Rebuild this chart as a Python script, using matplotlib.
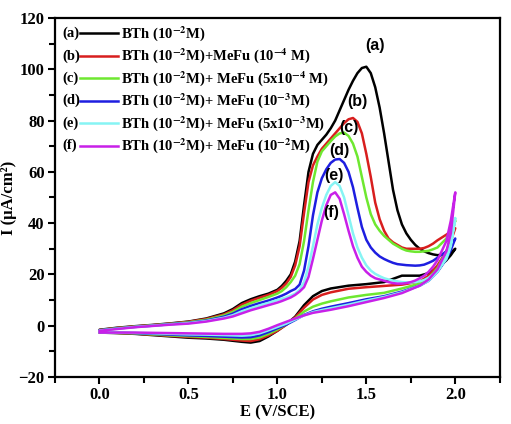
import numpy as np
import matplotlib
matplotlib.use('Agg')
import matplotlib.pyplot as plt
from matplotlib.ticker import MultipleLocator

plt.rcParams.update({
    'font.family': 'Liberation Serif', 'font.weight': 'bold',
    'mathtext.fontset': 'stix',
})

# forward (anodic) scan potentials, V/SCE
E_fwd = [0.0, 0.1, 0.2, 0.3, 0.4, 0.5, 0.6, 0.7, 0.75, 0.8, 0.85, 0.9, 0.95,
         1.0, 1.025, 1.05, 1.075, 1.1, 1.125, 1.15, 1.175, 1.2, 1.225, 1.25, 1.275,
         1.3, 1.325, 1.35, 1.375, 1.4, 1.425, 1.45, 1.475, 1.5, 1.525, 1.55, 1.575,
         1.6, 1.625, 1.65, 1.675, 1.7, 1.725, 1.75, 1.775, 1.8, 1.825, 1.85, 1.875,
         1.9, 1.95, 1.975, 2.0]
# return scan potentials
E_rev = [2.0, 1.975, 1.95, 1.9, 1.85, 1.8, 1.7, 1.6, 1.5, 1.4, 1.3, 1.25, 1.2,
         1.15, 1.1, 1.05, 1.0, 0.95, 0.9, 0.85, 0.8, 0.7, 0.6, 0.5, 0.4, 0.3,
         0.2, 0.1, 0.0]

# current densities, uA/cm2
I_a_fwd = [-1.6, -0.8, -0.2, 0.3, 0.9, 1.6, 2.8, 4.8, 6.5, 8.8, 10.3, 11.5, 12.5,
           14.0, 15.5, 17.5, 20.0, 25.0, 33.0, 47.0, 60.0, 67.0, 70.5, 72.5, 74.5,
           77.0, 80.0, 84.0, 88.0, 92.0, 95.5, 98.5, 100.5, 101.0, 98.5, 93.0, 85.0,
           75.0, 64.0, 53.0, 45.0, 39.5, 36.0, 33.5, 31.5, 30.0, 29.0, 28.3, 27.8,
           27.5, 27.8, 28.5, 30.0]
I_a_rev = [30.0, 27.5, 25.5, 22.5, 20.5, 19.5, 19.5, 17.0, 16.2, 15.6, 14.5, 13.5, 11.5,
           8.0, 3.5, 0.5, -2.0, -4.2, -6.0, -6.6, -6.3, -5.5, -5.0, -4.7, -4.2, -3.7,
           -3.2, -2.9, -2.7]

I_b_fwd = [-1.7, -0.9, -0.3, 0.2, 0.8, 1.5, 2.6, 4.4, 6.0, 8.2, 9.7, 10.9, 12.0,
           13.5, 14.8, 16.5, 19.0, 23.5, 31.0, 44.0, 56.0, 62.5, 66.0, 69.0, 71.0,
           73.0, 75.0, 77.0, 79.0, 80.5, 81.0, 79.5, 75.0, 67.0, 58.0, 48.0, 41.5,
           37.0, 34.0, 32.5, 31.5, 30.5, 30.0, 30.0, 30.0, 30.0, 30.3, 31.0, 32.0,
           33.3, 35.5, 36.8, 38.0]
I_b_rev = [38.0, 33.0, 29.0, 23.5, 19.5, 17.2, 16.0, 15.5, 15.0, 14.4, 13.0, 12.0, 10.2,
           7.0, 3.2, 0.3, -2.0, -3.8, -5.3, -6.0, -5.8, -5.2, -4.7, -4.4, -4.0, -3.5,
           -3.1, -2.8, -2.6]

I_c_fwd = [-1.8, -1.0, -0.4, 0.1, 0.7, 1.3, 2.3, 4.0, 5.4, 7.4, 8.8, 10.0, 11.2,
           12.5, 13.5, 15.0, 17.0, 19.5, 24.0, 33.0, 45.0, 56.0, 64.0, 68.0, 70.0,
           72.0, 73.8, 75.0, 75.3, 74.0, 71.0, 66.0, 58.0, 50.0, 43.5, 39.5, 37.0,
           35.0, 33.5, 32.0, 31.0, 30.0, 29.3, 29.0, 28.8, 28.8, 29.0, 29.2, 29.8,
           30.5, 34.0, 37.0, 41.0]
I_c_rev = [41.0, 34.0, 29.0, 22.5, 18.5, 16.4, 14.5, 12.8, 12.0, 11.0, 9.5, 8.6, 7.4,
           5.5, 2.8, 0.5, -1.5, -3.2, -4.6, -5.2, -5.2, -4.8, -4.4, -4.1, -3.8, -3.4,
           -3.0, -2.8, -2.6]

I_d_fwd = [-1.8, -1.1, -0.5, 0.0, 0.6, 1.1, 2.0, 3.5, 4.7, 6.4, 7.7, 8.8, 9.8,
           11.0, 11.7, 12.5, 13.5, 14.3, 16.0, 21.5, 31.0, 43.0, 52.0, 57.5, 61.0,
           63.5, 64.8, 65.0, 63.5, 60.0, 54.0, 46.0, 38.5, 33.5, 30.5, 28.5, 27.0,
           26.0, 25.2, 24.5, 24.0, 23.8, 23.6, 23.5, 23.4, 23.5, 23.8, 24.5, 25.3,
           26.5, 29.0, 31.0, 34.0]
I_d_rev = [34.0, 29.5, 26.0, 21.0, 17.5, 15.6, 13.3, 11.5, 10.3, 8.8, 7.4, 6.6, 5.6,
           4.2, 2.2, 0.4, -1.0, -2.5, -3.8, -4.5, -4.6, -4.3, -4.0, -3.8, -3.5, -3.2,
           -2.9, -2.7, -2.6]

I_e_fwd = [-1.9, -1.2, -0.5, 0.0, 0.5, 1.0, 1.8, 3.1, 4.1, 5.6, 6.8, 7.9, 8.9,
           10.0, 10.5, 11.0, 11.7, 12.5, 14.0, 17.0, 23.0, 31.0, 39.5, 46.0, 51.0,
           54.5, 56.0, 54.5, 50.0, 43.0, 36.0, 30.5, 26.5, 23.5, 21.5, 20.2, 19.3,
           18.5, 18.0, 17.6, 17.3, 17.0, 16.9, 16.8, 17.0, 17.3, 17.8, 18.7, 20.0,
           21.5, 26.0, 31.0, 42.0]
I_e_rev = [42.0, 32.0, 27.0, 21.0, 17.5, 15.6, 13.0, 11.2, 9.8, 8.2, 6.8, 6.1, 5.3,
           4.0, 2.4, 0.8, -0.5, -1.8, -3.0, -3.7, -3.9, -3.7, -3.5, -3.4, -3.2, -3.0,
           -2.8, -2.7, -2.6]

I_f_fwd = [-2.0, -1.3, -0.6, -0.1, 0.4, 0.8, 1.6, 2.8, 3.6, 4.8, 6.0, 7.0, 8.0,
           9.0, 9.6, 10.3, 11.0, 12.0, 13.3, 15.0, 19.0, 26.0, 33.5, 41.0, 47.0,
           51.0, 52.0, 49.5, 43.5, 37.0, 31.0, 26.5, 23.0, 21.0, 19.5, 18.5, 18.0,
           17.5, 17.0, 16.6, 16.4, 16.4, 16.6, 17.0, 17.6, 18.5, 19.5, 21.0, 23.0,
           25.5, 33.0, 41.0, 52.0]
I_f_rev = [52.0, 36.0, 29.0, 22.0, 18.0, 15.6, 12.7, 10.8, 9.2, 7.6, 6.2, 5.6, 5.0,
           4.0, 2.8, 1.5, 0.2, -1.2, -2.4, -3.0, -3.2, -3.2, -3.1, -3.0, -2.9, -2.8,
           -2.7, -2.7, -2.7]

tags = ['(a)', '(b)', '(c)', '(d)', '(e)', '(f)']
labels = [
    r'BTh (10$^{\mathbf{-2}}$M)',
    r'BTh (10$^{\mathbf{-2}}$M)+MeFu (10$^{\mathbf{-4}}$ M)',
    r'BTh (10$^{\mathbf{-2}}$M)+ MeFu (5x10$^{\mathbf{-4}}$ M)',
    r'BTh (10$^{\mathbf{-2}}$M)+ MeFu (10$^{\mathbf{-3}}$M)',
    r'BTh (10$^{\mathbf{-2}}$M)+ MeFu (5x10$^{\mathbf{-3}}$M)',
    r'BTh (10$^{\mathbf{-2}}$M)+ MeFu (10$^{\mathbf{-2}}$M)',
]
colors = ['#000000', '#d81e1e', '#6ee830', '#1e1ee0', '#86f4f4', '#c820e8']
peak_tags = [(1.546, 109.2), (1.451, 87.4), (1.401, 77.3),
             (1.350, 68.3), (1.317, 58.5), (1.305, 44.1)]

curves = [(I_a_fwd, I_a_rev), (I_b_fwd, I_b_rev), (I_c_fwd, I_c_rev),
          (I_d_fwd, I_d_rev), (I_e_fwd, I_e_rev), (I_f_fwd, I_f_rev)]

fig = plt.figure(figsize=(5.11, 4.24), dpi=100)
ax = fig.add_axes([0.1076, 0.111, 0.8704, 0.8465])

for (fwd, rev), c in zip(curves, colors):
    E = list(E_fwd) + list(E_rev)
    I = list(fwd) + list(rev)
    ax.plot(E, I, color=c, lw=1.8, solid_joinstyle='round', solid_capstyle='round')

ax.set_xlim(-0.25, 2.25)
ax.set_ylim(-20, 120)
ax.xaxis.set_major_locator(MultipleLocator(0.5))
ax.xaxis.set_minor_locator(MultipleLocator(0.25))
ax.yaxis.set_major_locator(MultipleLocator(20))
ax.yaxis.set_minor_locator(MultipleLocator(10))
ax.xaxis.set_major_formatter(matplotlib.ticker.FormatStrFormatter('%.1f'))
ax.tick_params(axis='x', which='major', pad=2.5)
ax.tick_params(axis='y', which='major', pad=2.5)
ax.tick_params(which='major', direction='out', length=5, width=1.5, labelsize=12)
ax.tick_params(which='minor', direction='out', length=4, width=1.5)
for lab in ax.get_xticklabels() + ax.get_yticklabels():
    lab.set_fontweight('bold')
for s in ax.spines.values():
    s.set_linewidth(1.6)

ax.set_xlabel('E (V/SCE)', fontsize=12, fontweight='bold', labelpad=1)
ax.set_ylabel('I (\u03bcA/cm\u00b2)', fontsize=12, fontweight='bold', labelpad=1)

# legend drawn by hand: tag, line sample, text
y0, dy = 0.957, 0.0625
for i, (t, lab, c) in enumerate(zip(tags, labels, colors)):
    y = y0 - i * dy
    ax.text(0.016, y, t, transform=ax.transAxes, fontsize=10.5, fontweight='bold', va='center')
    ax.plot([0.057, 0.142], [y, y], transform=ax.transAxes, color=c, lw=1.8)
    ax.text(0.148, y, lab, transform=ax.transAxes, fontsize=10.5, fontweight='bold', va='center')

for t, (x, y) in zip(tags, peak_tags):
    ax.text(x, y, t, fontsize=11.5, fontweight='bold', family='Liberation Sans',
            ha='center', va='center')

fig.savefig('out.png', dpi=100)
